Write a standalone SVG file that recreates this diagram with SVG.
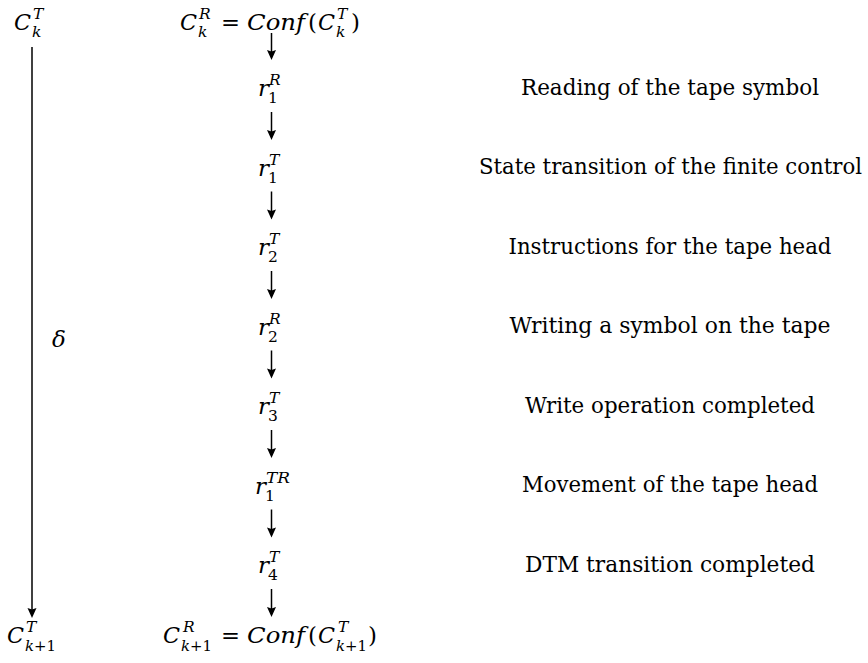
<svg xmlns="http://www.w3.org/2000/svg" width="868" height="663" viewBox="0 0 868 663">
<style>
text{font-family:"DejaVu Serif","Liberation Serif","Noto Serif",serif;fill:#000}
.m{font-style:italic;font-size:23px}
.s{font-style:italic;font-size:15.5px}
.sr{font-size:15.5px}
.r{font-size:23px}
.t{font-size:22px;text-anchor:middle}
.ar{stroke:#000;stroke-width:1.5;fill:none;marker-end:url(#ah)}
</style>
<defs>
<marker id="ah" markerUnits="userSpaceOnUse" markerWidth="12" markerHeight="10" refX="4" refY="4.5" orient="auto" overflow="visible">
<path d="M0,0 L10,4.5 L0,9 L1.5,4.5 Z" fill="#000"/>
</marker>
</defs>
<g id="connectors">
<line class="ar" x1="32" y1="47" x2="32" y2="612"/>
<line class="ar" x1="271.5" y1="33" x2="271.5" y2="54"/>
<line class="ar" x1="271.5" y1="112" x2="271.5" y2="134"/>
<line class="ar" x1="271.5" y1="191.5" x2="271.5" y2="213.5"/>
<line class="ar" x1="271.5" y1="271" x2="271.5" y2="293"/>
<line class="ar" x1="271.5" y1="350.5" x2="271.5" y2="372.5"/>
<line class="ar" x1="271.5" y1="430" x2="271.5" y2="452"/>
<line class="ar" x1="271.5" y1="509.5" x2="271.5" y2="531.5"/>
<line class="ar" x1="271.5" y1="589" x2="271.5" y2="611"/>
</g>
<g id="delta"><text class="m" x="52" y="347">δ</text></g>
<g id="CkT">
<text class="m" x="14" y="30" textLength="17" lengthAdjust="spacingAndGlyphs">C</text>
<text class="s" x="33" y="19">T</text>
<text class="s" x="32" y="37">k</text>
</g>
<g id="CkR">
<text class="m" x="180" y="30" textLength="17" lengthAdjust="spacingAndGlyphs">C</text>
<text class="s" x="199" y="19">R</text>
<text class="s" x="198" y="37">k</text>
<text class="r" x="221" y="30" textLength="19" lengthAdjust="spacingAndGlyphs">=</text>
<text class="m" x="247" y="30" textLength="58" lengthAdjust="spacingAndGlyphs">Conf</text>
<text class="r" x="308" y="30">(</text>
<text class="m" x="318" y="30" textLength="17" lengthAdjust="spacingAndGlyphs">C</text>
<text class="s" x="337" y="19">T</text>
<text class="s" x="336" y="37">k</text>
<text class="r" x="351" y="30">)</text>
</g>
<g id="r1R">
<text class="m" x="258" y="96">r</text>
<text class="s" x="269" y="85">R</text>
<text class="sr" x="268" y="103">1</text>
</g>
<g id="r1T">
<text class="m" x="258" y="175.5">r</text>
<text class="s" x="269" y="164.5">T</text>
<text class="sr" x="268" y="182.5">1</text>
</g>
<g id="r2T">
<text class="m" x="258" y="255">r</text>
<text class="s" x="269" y="244">T</text>
<text class="sr" x="268" y="262">2</text>
</g>
<g id="r2R">
<text class="m" x="258" y="334.5">r</text>
<text class="s" x="269" y="323.5">R</text>
<text class="sr" x="268" y="341.5">2</text>
</g>
<g id="r3T">
<text class="m" x="258" y="414">r</text>
<text class="s" x="269" y="403">T</text>
<text class="sr" x="268" y="421">3</text>
</g>
<g id="r1TR">
<text class="m" x="255" y="493.5">r</text>
<text class="s" x="266" y="482.5" textLength="24" lengthAdjust="spacingAndGlyphs">TR</text>
<text class="sr" x="265" y="500.5">1</text>
</g>
<g id="r4T">
<text class="m" x="258" y="573">r</text>
<text class="s" x="269" y="562">T</text>
<text class="sr" x="268" y="580">4</text>
</g>
<g id="Ck1T">
<text class="m" x="7" y="643" textLength="17" lengthAdjust="spacingAndGlyphs">C</text>
<text class="s" x="26" y="632">T</text>
<text class="s" x="25" y="651" textLength="31" lengthAdjust="spacingAndGlyphs">k<tspan font-style="normal">+1</tspan></text>
</g>
<g id="Ck1R">
<text class="m" x="163" y="643" textLength="17" lengthAdjust="spacingAndGlyphs">C</text>
<text class="s" x="183" y="632">R</text>
<text class="s" x="181" y="651" textLength="31" lengthAdjust="spacingAndGlyphs">k<tspan font-style="normal">+1</tspan></text>
<text class="r" x="221" y="643" textLength="19" lengthAdjust="spacingAndGlyphs">=</text>
<text class="m" x="247" y="643" textLength="58" lengthAdjust="spacingAndGlyphs">Conf</text>
<text class="r" x="308" y="643">(</text>
<text class="m" x="318" y="643" textLength="17" lengthAdjust="spacingAndGlyphs">C</text>
<text class="s" x="338" y="632">T</text>
<text class="s" x="336" y="651" textLength="31" lengthAdjust="spacingAndGlyphs">k<tspan font-style="normal">+1</tspan></text>
<text class="r" x="368" y="643">)</text>
</g>
<g id="descriptions">
<text class="t" x="670" y="94.5" textLength="298" lengthAdjust="spacingAndGlyphs">Reading of the tape symbol</text>
<text class="t" x="670.5" y="174" textLength="383" lengthAdjust="spacingAndGlyphs">State transition of the finite control</text>
<text class="t" x="670" y="253.5" textLength="323" lengthAdjust="spacingAndGlyphs">Instructions for the tape head</text>
<text class="t" x="670" y="333" textLength="321" lengthAdjust="spacingAndGlyphs">Writing a symbol on the tape</text>
<text class="t" x="670" y="412.5" textLength="290" lengthAdjust="spacingAndGlyphs">Write operation completed</text>
<text class="t" x="670" y="492" textLength="296" lengthAdjust="spacingAndGlyphs">Movement of the tape head</text>
<text class="t" x="670" y="571.5" textLength="290" lengthAdjust="spacingAndGlyphs">DTM transition completed</text>
</g>
</svg>
